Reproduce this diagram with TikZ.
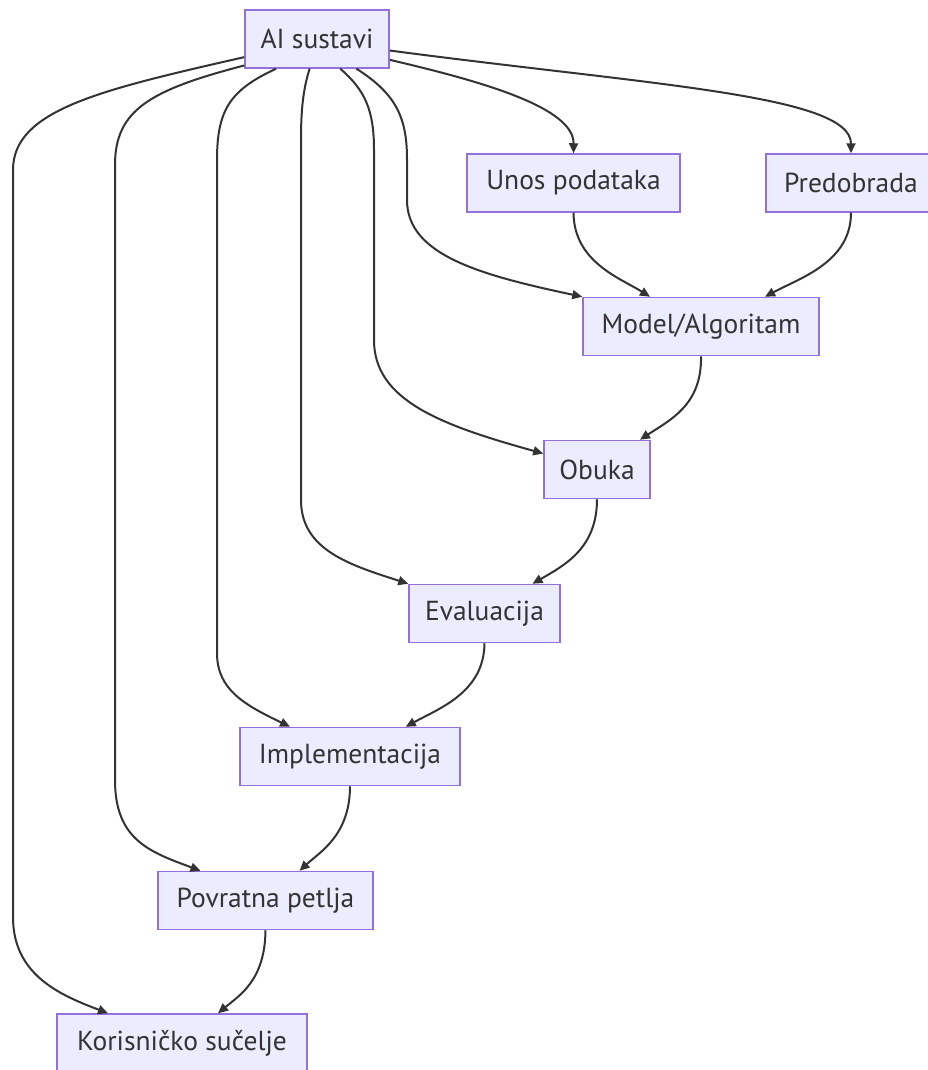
\documentclass[tikz,border=0pt]{standalone}
\usepackage{fontspec}
\setmainfont{PT Sans}
\usepackage{xcolor}
\definecolor{flowFill}{HTML}{ECECFF}
\definecolor{flowBorder}{HTML}{9370DB}
\definecolor{flowLine}{HTML}{333333}
\usetikzlibrary{arrows.meta,calc}
\tikzset{
    box/.style={
        draw=flowBorder,
        fill=flowFill,
        rectangle,
        line width=1.5pt,
        align=center,
        minimum height=58pt,
        inner xsep=15pt,
        text=flowLine,
        font=\fontsize{27.5}{32}\selectfont
    },
    arrow/.style={
        -{Triangle[length=10pt,width=9pt]},
        line width=2pt,
        color=flowLine
    }
}

\begin{document}
\begin{tikzpicture}[x=1pt,y=-1pt]
    \useasboundingbox (0,0) rectangle (928,1070);

    % Nodes
    \node[box, minimum width=144pt] (ai) at (317,39) {AI sustavi};
    \node[box, minimum width=213pt] (unos) at (573.5,183) {Unos podataka};
    \node[box, minimum width=170pt] (pre) at (851,183) {Predobrada};
    \node[box, minimum width=236pt] (model) at (701,326.5) {Model/Algoritam};
    \node[box, minimum width=106pt] (obuka) at (597,469.5) {Obuka};
    \node[box, minimum width=151pt] (eval) at (484.5,613.5) {Evaluacija};
    \node[box, minimum width=220pt] (impl) at (350,756.5) {Implementacija};
    \node[box, minimum width=215pt] (povratna) at (265.5,900.5) {Povratna petlja};
    \node[box, minimum width=250pt] (kor) at (182,1043) {Korisničko sučelje};

    % Arrows from AI sustavi
    \draw[arrow] (ai.344) .. controls (485,82) and (574,108) .. (unos.north);
    \draw[arrow] (ai.351) .. controls (650,85) and (851,95) .. (pre.north);
    \draw[arrow] (ai.323) .. controls (398,95) and (407,120) .. (407,160) -- (407,200)
        .. controls (407,255) and (480,275) .. (model.north west);
    \draw[arrow] (ai.308) .. controls (365,90) and (374,110) .. (374,150) -- (374,340)
        .. controls (374,400) and (440,425) .. ([yshift=16pt]obuka.west);
    \draw[arrow] (ai.256) .. controls (303,90) and (301,110) .. (301,140) -- (301,500)
        .. controls (301,550) and (350,565) .. (eval.north west);
    \draw[arrow] (ai.216) .. controls (230,90) and (217,110) .. (217,160) -- (217,653)
        .. controls (217,690) and (245,705) .. ([xshift=-60pt]impl.north);
    \draw[arrow] (ai.200) .. controls (150,90) and (115,110) .. (115,165) -- (115,780)
        .. controls (115,840) and (150,852) .. ([xshift=-65pt]povratna.north);
    \draw[arrow] (ai.194) .. controls (100,90) and (13,110) .. (13,170) -- (13,917)
        .. controls (13,975) and (60,995) .. ([xshift=-74pt]kor.north);

    % Arrows along the chain
    \draw[arrow] (unos.south) .. controls (574,262) and (620,278) .. ([xshift=-51pt]model.north);
    \draw[arrow] (pre.south) .. controls (851,262) and (800,278) .. ([xshift=64pt]model.north);
    \draw[arrow] (model.south) .. controls (702,405) and (670,420) .. ([xshift=43pt]obuka.north);
    \draw[arrow] (obuka.south) .. controls (597,548) and (565,565) .. ([xshift=48pt]eval.north);
    \draw[arrow] (eval.south) .. controls (484,692) and (440,708) .. ([xshift=-55pt]impl.north east);
    \draw[arrow] (impl.south) .. controls (350,835) and (320,852) .. ([xshift=34pt]povratna.north);
    \draw[arrow] (povratna.south) .. controls (265,980) and (240,995) .. ([xshift=36pt]kor.north);
\end{tikzpicture}
\end{document}
